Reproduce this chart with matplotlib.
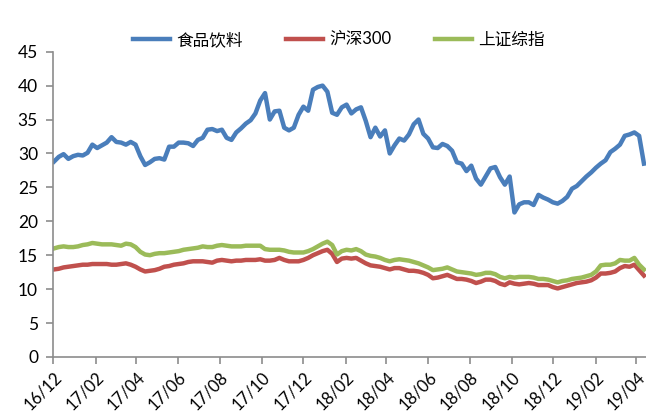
import matplotlib
matplotlib.use("Agg")
import matplotlib.pyplot as plt
import matplotlib.dates as mdates
import pandas as pd

# weekly closes (Fridays)
dates = pd.date_range("2016-12-02", periods=124, freq="W-FRI")

food_bev = [
    28.8, 29.5, 29.9, 29.2, 29.6, 29.8, 29.7, 30.1, 31.3, 30.8,
    31.2, 31.6, 32.4, 31.7, 31.6, 31.3, 31.7, 31.3, 29.6, 28.3,
    28.7, 29.2, 29.3, 29.1, 31.0, 31.0, 31.6, 31.6, 31.5, 31.1,
    32.0, 32.3, 33.5, 33.6, 33.3, 33.5, 32.3, 32.0, 33.1, 33.7,
    34.4, 34.9, 35.9, 37.8, 38.9, 35.0, 36.2, 36.3, 33.8, 33.4,
    33.8, 35.7, 36.9, 36.3, 39.4, 39.8, 40.0, 39.1, 36.0, 35.7,
    36.8, 37.2, 35.9, 36.5, 36.8, 34.8, 32.4, 33.8, 32.5, 33.4,
    30.0, 31.2, 32.2, 31.9, 32.8, 34.3, 35.0, 32.9, 32.2, 30.9,
    30.8, 31.4, 31.1, 30.4, 28.7, 28.5, 27.4, 28.2, 26.3, 25.4,
    26.6, 27.8, 28.0, 26.5, 25.4, 26.6, 21.3, 22.5, 22.8, 22.8,
    22.4, 23.9, 23.5, 23.2, 22.8, 22.6, 23.0, 23.6, 24.8, 25.2,
    25.9, 26.6, 27.2, 27.9, 28.5, 29.0, 30.2, 30.7, 31.3, 32.6,
    32.8, 33.1, 32.6, 28.5,
]

hs300 = [
    12.9, 13.0, 13.2, 13.3, 13.4, 13.5, 13.6, 13.6, 13.7, 13.7,
    13.7, 13.7, 13.6, 13.6, 13.7, 13.8, 13.6, 13.3, 12.9, 12.6,
    12.7, 12.8, 13.0, 13.3, 13.4, 13.6, 13.7, 13.8, 14.0, 14.1,
    14.1, 14.1, 14.0, 13.9, 14.2, 14.3, 14.2, 14.1, 14.2, 14.2,
    14.3, 14.3, 14.3, 14.4, 14.2, 14.2, 14.3, 14.6, 14.3, 14.1,
    14.1, 14.1, 14.3, 14.6, 15.0, 15.3, 15.6, 15.8, 15.2, 14.0,
    14.5, 14.6, 14.5, 14.6, 14.2, 13.8, 13.5, 13.4, 13.3, 13.1,
    12.9, 13.1, 13.1, 12.9, 12.7, 12.7, 12.6, 12.4, 12.1, 11.6,
    11.7, 11.9, 12.1, 11.8, 11.5, 11.5, 11.4, 11.2, 10.9, 11.1,
    11.4, 11.4, 11.2, 10.8, 10.6, 11.0, 10.8, 10.7, 10.8, 10.9,
    10.8, 10.6, 10.6, 10.6, 10.3, 10.1, 10.3, 10.5, 10.7, 10.9,
    11.0, 11.1, 11.3, 11.7, 12.3, 12.3, 12.4, 12.6, 13.1, 13.4,
    13.3, 13.6, 12.8, 12.0,
]

shcomp = [
    16.0, 16.2, 16.3, 16.2, 16.2, 16.3, 16.5, 16.6, 16.8, 16.7,
    16.6, 16.6, 16.6, 16.5, 16.4, 16.7, 16.6, 16.2, 15.5, 15.1,
    15.0, 15.2, 15.3, 15.3, 15.4, 15.5, 15.6, 15.8, 15.9, 16.0,
    16.1, 16.3, 16.2, 16.2, 16.4, 16.5, 16.4, 16.3, 16.3, 16.3,
    16.4, 16.4, 16.4, 16.4, 15.9, 15.8, 15.8, 15.8, 15.7, 15.5,
    15.4, 15.4, 15.4, 15.6, 15.9, 16.3, 16.7, 17.0, 16.5, 15.1,
    15.6, 15.8, 15.7, 15.9, 15.6, 15.1, 14.9, 14.8, 14.6, 14.3,
    14.1, 14.3, 14.4, 14.3, 14.2, 14.0, 13.8, 13.5, 13.2, 12.8,
    12.9, 13.0, 13.2, 12.9, 12.6, 12.5, 12.4, 12.3, 12.1, 12.2,
    12.4, 12.4, 12.2, 11.8, 11.6, 11.8, 11.7, 11.8, 11.8, 11.8,
    11.7, 11.5, 11.5, 11.4, 11.2, 11.0, 11.2, 11.3, 11.5, 11.6,
    11.7, 11.9, 12.1, 12.6, 13.5, 13.6, 13.6, 13.8, 14.3, 14.2,
    14.2, 14.6, 13.6, 12.9,
]

labels = ["食品饮料", "沪深300", "上证综指"]
colors = ["#4A7EBB", "#C0504D", "#9BBB59"]

fonts = ["Lato", "Noto Sans CJK SC", "DejaVu Sans"]
plt.rcParams["font.family"] = fonts

fig = plt.figure(figsize=(6.46, 4.17), dpi=100)
ax = fig.add_axes([0.0825, 0.144, 0.9175, 0.732])

for series, lab, col in zip([food_bev, hs300, shcomp], labels, colors):
    ax.plot(dates, series, color=col, lw=3.2, label=lab, solid_joinstyle="round")

ax.set_ylim(0, 45)
ax.set_yticks(range(0, 50, 5))
ax.set_xlim(pd.Timestamp("2016-12-01"), pd.Timestamp("2019-04-15"))
ax.xaxis.set_major_locator(mdates.MonthLocator(bymonth=[2, 4, 6, 8, 10, 12]))
ax.xaxis.set_major_formatter(mdates.DateFormatter("%y/%m"))

for s in ["top", "right"]:
    ax.spines[s].set_visible(False)
for s in ["left", "bottom"]:
    ax.spines[s].set_color("#8C8C8C")
    ax.spines[s].set_linewidth(1.2)

ax.tick_params(axis="both", color="#8C8C8C", width=1.2, length=5,
               labelcolor="#000000")
ax.tick_params(axis="y", pad=6, labelsize=12.5)
ax.tick_params(axis="x", labelsize=12)
for t in ax.get_xticklabels():
    t.set_rotation(45)
    t.set_ha("right")
    t.set_va("top")
    t.set_rotation_mode("anchor")

fig.legend(loc="center", bbox_to_anchor=(0.525, 0.904), ncol=3,
           frameon=False, fontsize=12, handlelength=2.2, columnspacing=2.6,
           handletextpad=0.4)

fig.savefig("out.png", dpi=100)
